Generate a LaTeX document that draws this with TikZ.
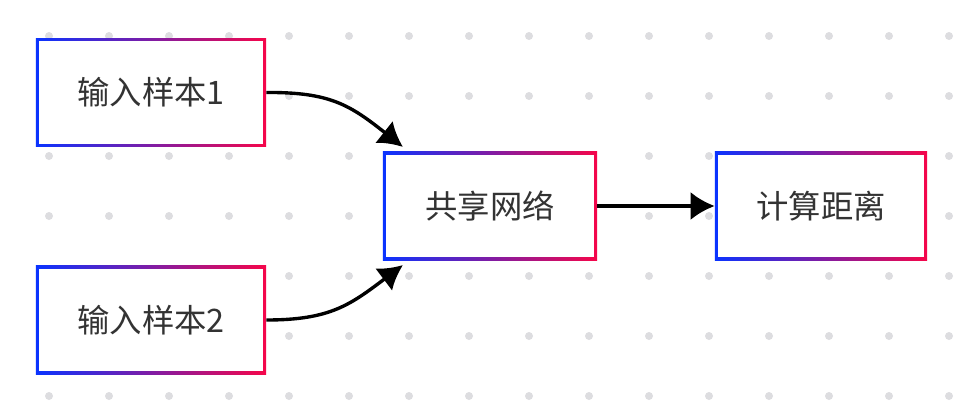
\documentclass[tikz,border=0pt]{standalone}
\usepackage{fontspec}
\newfontfamily\cjk{Noto Sans CJK SC}
\usetikzlibrary{arrows.meta}
\definecolor{gblue}{HTML}{0A33FF}
\definecolor{gred}{HTML}{F5064A}
\definecolor{txt}{HTML}{333333}
\definecolor{dotc}{HTML}{DDDDE0}
\tikzset{
  box/.style={rectangle, minimum width=5.75cm, minimum height=2.72cm,
    left color=gblue, right color=gred, text=txt, font=\cjk\fontsize{23}{28}\selectfont,
    path picture={\fill[white] ([shift={(2.4pt,2.4pt)}]path picture bounding box.south west)
      rectangle ([shift={(-2.4pt,-2.4pt)}]path picture bounding box.north east);}},
  arrow/.style={line width=2.4pt, -{Latex[length=6mm,width=7mm]}}
}
\begin{document}
\begin{tikzpicture}[x=0.025cm, y=-0.025cm]
	\useasboundingbox (0,0) rectangle (966,402);

	% dotted grid
	\foreach \i in {0,...,15}
		\foreach \j in {0,...,6}
			\fill[dotc] (49+60*\i, 36+60*\j) circle (4);

	\node (in1) [box] at (151,92.5) {输入样本1};
	\node (in2) [box] at (151,320) {输入样本2};
	\node (net) [box, minimum width=5.35cm] at (490,206) {共享网络};
	\node (dist) [box, minimum width=5.3cm] at (821,206) {计算距离};
	\coordinate (netin1) at (403,147);
	\coordinate (netin2) at (403,265);

	\draw [arrow] (in1.east) .. controls (330,92) and (350,105) .. (netin1);
	\draw [arrow] (in2.east) .. controls (330,320) and (350,305) .. (netin2);
	\draw [arrow] (net) -- (dist);

\end{tikzpicture}
\end{document}
